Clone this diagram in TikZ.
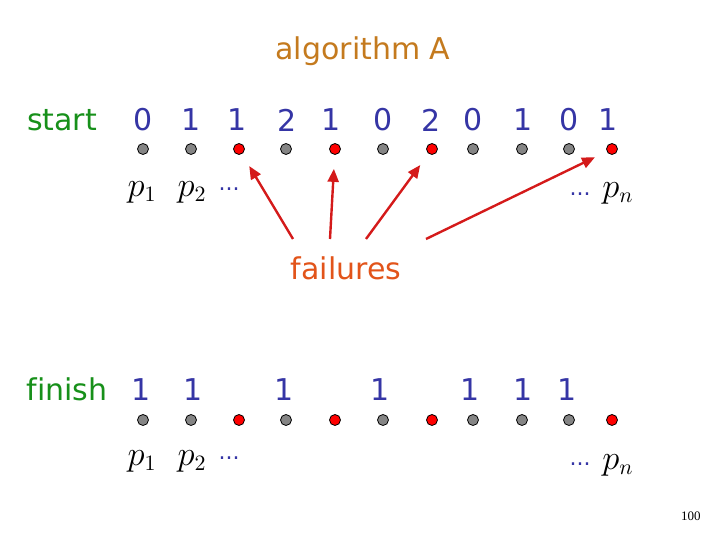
\documentclass[tikz,border=0pt]{standalone}
\usepackage{fontspec}
\setmainfont{DejaVu Sans}
\newfontfamily\pagefont{Liberation Serif}
\usetikzlibrary{arrows.meta}

\definecolor{numblue}{HTML}{3535A5}
\definecolor{rowgreen}{HTML}{17901A}
\definecolor{titleorange}{HTML}{C47A1E}
\definecolor{failorange}{HTML}{E2541A}
\definecolor{arrowred}{HTML}{D41A1A}
\definecolor{procgray}{HTML}{858585}

\begin{document}
\begin{tikzpicture}[x=0.5pt, y=-0.5pt, >={Triangle[length=6.5pt, width=5.5pt]},
    proc/.style={circle, draw=black, line width=0.4pt, inner sep=0pt, minimum size=5.5pt},
    okproc/.style={proc, fill=procgray},
    badproc/.style={proc, fill=red},
    digit/.style={text=numblue, inner sep=0pt, font=\fontsize{15}{18}\selectfont},
    rowname/.style={text=rowgreen, inner sep=0pt, font=\fontsize{15}{18}\selectfont},
    plabel/.style={inner sep=0pt, font=\fontsize{16}{18}\selectfont},
    dotsgap/.style={text=numblue, inner sep=0pt, font=\fontsize{11}{13}\selectfont},
    failarrow/.style={->, arrowred, line width=1.2pt}]
    % Rahmen
    \useasboundingbox (0,0) rectangle (720,540);

    % Titel
    \node[text=titleorange, inner sep=0pt, font=\fontsize{15}{18}\selectfont] (title) at (363,51) {algorithm A};

    % Startzeile
    \node[rowname] (start) at (62,120) {start};
    \foreach \i/\x/\v in {1/143/0, 2/191/1, 3/237/1, 4/287/2, 5/331/1, 6/383/0,
                          7/431/2, 8/473/0, 9/523/1, 10/569/0, 11/608/1}
        \node[digit] (s\i) at (\x,120) {\v};
    \foreach \i/\x/\s in {1/143/okproc, 2/191/okproc, 3/239/badproc, 4/286/okproc,
                          5/335/badproc, 6/383/okproc, 7/432/badproc, 8/473/okproc,
                          9/522/okproc, 10/569/okproc, 11/612/badproc}
        \node[\s] (d\i) at (\x,149) {};
    \node[plabel] (p1top) at (142,192) {$p_1$};
    \node[plabel] (p2top) at (192,192) {$p_2$};
    \node[dotsgap] (gaptopa) at (229,189) {...};
    \node[dotsgap] (gaptopb) at (580,194) {...};
    \node[plabel] (pntop) at (618,193) {$p_n$};

    % Fehler
    \node[text=failorange, inner sep=0pt, font=\fontsize{15}{18}\selectfont] (fail) at (346,268) {failures};
    \coordinate (f1) at (293,239);
    \coordinate (f2) at (330,239);
    \coordinate (f3) at (366,239);
    \coordinate (f4) at (426,239);
    \draw[failarrow, shorten >=7pt] (f1) -- (d3);
    \draw[failarrow, shorten >=7pt] (f2) -- (d5);
    \draw[failarrow, shorten >=7pt] (f3) -- (d7);
    \draw[failarrow, shorten >=6.5pt] (f4) -- (d11);

    % Endzeile
    \node[rowname] (finish) at (67,389) {f\kern0pt inish};
    \foreach \i/\x in {1/141, 2/193, 4/284, 6/380, 8/470, 9/523, 10/567}
        \node[digit] (t\i) at (\x,390) {1};
    \foreach \i/\x/\s in {1/143/okproc, 2/191/okproc, 3/239/badproc, 4/286/okproc,
                          5/335/badproc, 6/383/okproc, 7/432/badproc, 8/473/okproc,
                          9/522/okproc, 10/569/okproc, 11/612/badproc}
        \node[\s] (e\i) at (\x,420) {};
    \node[plabel] (p1bot) at (142,461) {$p_1$};
    \node[plabel] (p2bot) at (192,461) {$p_2$};
    \node[dotsgap] (gapbota) at (229,458) {...};
    \node[dotsgap] (gapbotb) at (580,464) {...};
    \node[plabel] (pnbot) at (618,465) {$p_n$};

    % Seitenzahl
    \node[inner sep=0pt, font=\pagefont\fontsize{6.5}{8}\selectfont] (page) at (691,516) {100};
\end{tikzpicture}
\end{document}
